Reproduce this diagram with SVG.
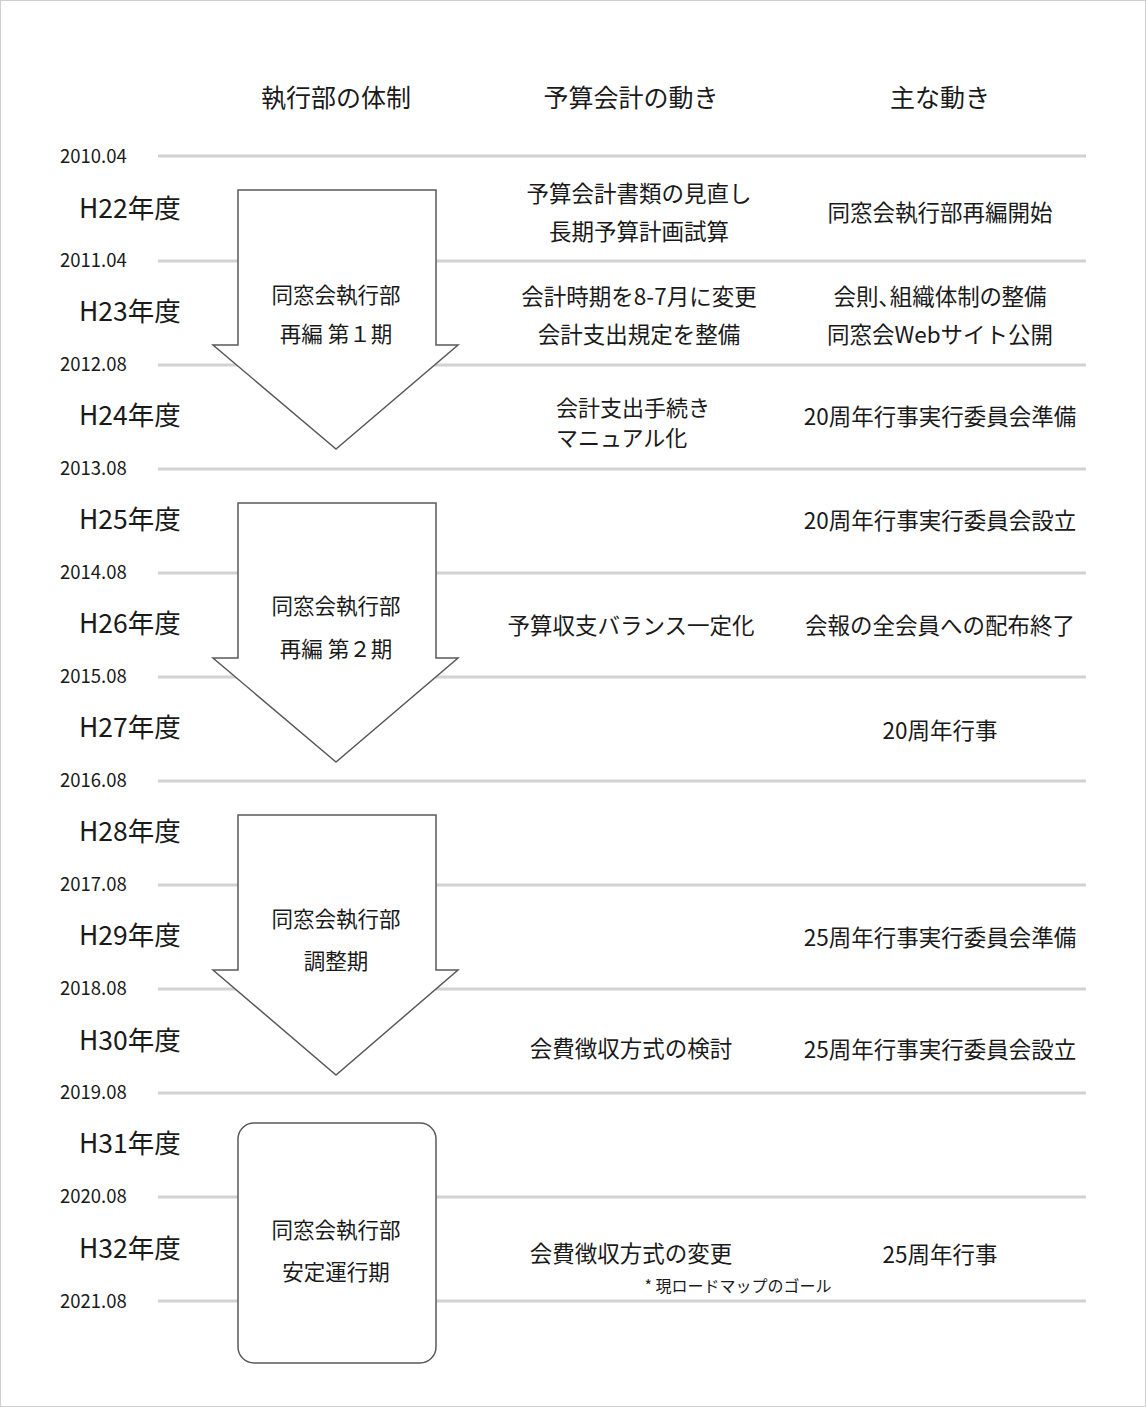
<svg xmlns="http://www.w3.org/2000/svg" width="1146" height="1407" viewBox="0 0 1146 1407">
<style>
text{font-family:"Noto Sans CJK JP","Noto Sans",sans-serif;fill:#1a1a1a}
.hd{font-size:25px;text-anchor:middle}
.dt{font-size:18.5px}
.yr{font-size:26.5px}
.t{font-size:22.5px;text-anchor:middle}
.a{font-size:21.5px;text-anchor:middle}
.tl{font-size:22px}
.grid line{stroke:#d2d2d2;stroke-width:3}
.shape{fill:#fff;stroke:#5a5a5a;stroke-width:1.5}
</style>
<rect x="0.5" y="0.5" width="1145" height="1406" fill="#fff" stroke="#cfcfcf" stroke-width="1"/>
<g id="headers">
<text class="hd" x="336" y="107">執行部の体制</text>
<text class="hd" x="631" y="107">予算会計の動き</text>
<text class="hd" x="940" y="107">主な動き</text>
</g>
<g id="connectors" class="grid">
<line x1="158" y1="156" x2="1086" y2="156"/>
<line x1="158" y1="261" x2="1086" y2="261"/>
<line x1="158" y1="365" x2="1086" y2="365"/>
<line x1="158" y1="469" x2="1086" y2="469"/>
<line x1="158" y1="573" x2="1086" y2="573"/>
<line x1="158" y1="677" x2="1086" y2="677"/>
<line x1="158" y1="781" x2="1086" y2="781"/>
<line x1="158" y1="885" x2="1086" y2="885"/>
<line x1="158" y1="989" x2="1086" y2="989"/>
<line x1="158" y1="1093" x2="1086" y2="1093"/>
<line x1="158" y1="1197" x2="1086" y2="1197"/>
<line x1="158" y1="1301" x2="1086" y2="1301"/>
</g>
<g id="dates">
<text class="dt" x="60" y="163">2010.04</text>
<text class="dt" x="60" y="267">2011.04</text>
<text class="dt" x="60" y="371">2012.08</text>
<text class="dt" x="60" y="475">2013.08</text>
<text class="dt" x="60" y="579">2014.08</text>
<text class="dt" x="60" y="683">2015.08</text>
<text class="dt" x="60" y="787">2016.08</text>
<text class="dt" x="60" y="891">2017.08</text>
<text class="dt" x="60" y="995">2018.08</text>
<text class="dt" x="60" y="1099">2019.08</text>
<text class="dt" x="60" y="1203">2020.08</text>
<text class="dt" x="60" y="1308">2021.08</text>
</g>
<g id="years">
<text class="yr" x="79" y="218">H22年度</text>
<text class="yr" x="79" y="321">H23年度</text>
<text class="yr" x="79" y="425">H24年度</text>
<text class="yr" x="79" y="529">H25年度</text>
<text class="yr" x="79" y="633">H26年度</text>
<text class="yr" x="79" y="737">H27年度</text>
<text class="yr" x="79" y="841">H28年度</text>
<text class="yr" x="79" y="945">H29年度</text>
<text class="yr" x="79" y="1050">H30年度</text>
<text class="yr" x="79" y="1153">H31年度</text>
<text class="yr" x="79" y="1258">H32年度</text>
</g>
<g id="phase1">
<path class="shape" d="M238,190 H436 V345 H458 L336,449 L213,345 H238 Z"/>
<text class="a" x="336" y="303">同窓会執行部</text>
<text class="a" x="336" y="342">再編 第１期</text>
</g>
<g id="phase2">
<path class="shape" d="M238,503 H436 V658 H458 L336,762 L213,658 H238 Z"/>
<text class="a" x="336" y="614">同窓会執行部</text>
<text class="a" x="336" y="657">再編 第２期</text>
</g>
<g id="phase3">
<path class="shape" d="M238,815 H436 V970 H458 L336,1075 L213,970 H238 Z"/>
<text class="a" x="336" y="927">同窓会執行部</text>
<text class="a" x="336" y="969">調整期</text>
</g>
<g id="phase4">
<rect class="shape" x="238" y="1123" width="198" height="240" rx="16"/>
<text class="a" x="336" y="1238">同窓会執行部</text>
<text class="a" x="336" y="1280">安定運行期</text>
</g>
<g id="budget">
<text class="t" x="639" y="202">予算会計書類の見直し</text>
<text class="t" x="639" y="240">長期予算計画試算</text>
<text class="t" x="639" y="305">会計時期を8-7月に変更</text>
<text class="t" x="639" y="343">会計支出規定を整備</text>
<text class="tl" x="556" y="416">会計支出手続き</text>
<text class="tl" x="556" y="446">マニュアル化</text>
<text class="t" x="631" y="634">予算収支バランス一定化</text>
<text class="t" x="631" y="1057">会費徴収方式の検討</text>
<text class="t" x="631" y="1262">会費徴収方式の変更</text>
<text x="738" y="1292" style="font-size:16px;text-anchor:middle">* 現ロードマップのゴール</text>
</g>
<g id="main">
<text class="t" x="940" y="221">同窓会執行部再編開始</text>
<text class="t" x="940" y="305" style="font-feature-settings:'palt'">会則、組織体制の整備</text>
<text class="t" x="940" y="343">同窓会Webサイト公開</text>
<text class="t" x="940" y="425">20周年行事実行委員会準備</text>
<text class="t" x="940" y="529">20周年行事実行委員会設立</text>
<text class="t" x="940" y="634">会報の全会員への配布終了</text>
<text class="t" x="940" y="739">20周年行事</text>
<text class="t" x="940" y="946">25周年行事実行委員会準備</text>
<text class="t" x="940" y="1058">25周年行事実行委員会設立</text>
<text class="t" x="940" y="1263">25周年行事</text>
</g>
</svg>
